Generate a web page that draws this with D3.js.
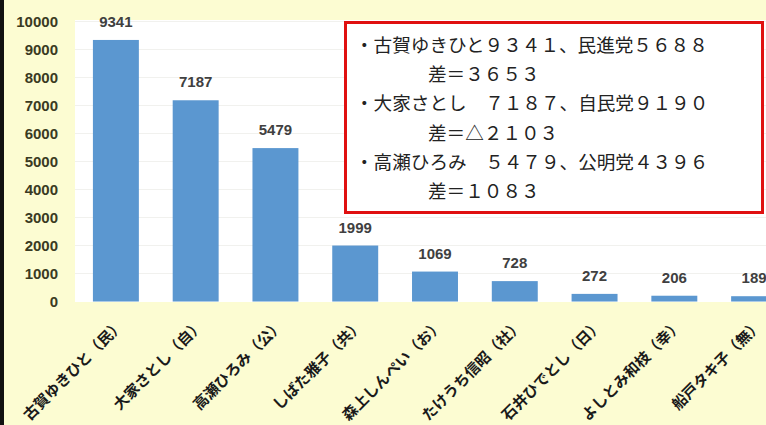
<!DOCTYPE html>
<html><head><meta charset="utf-8">
<script src="https://cdn.jsdelivr.net/npm/d3@7"></script>
<style>html,body{margin:0;padding:0;background:#fcfcd2;}svg{display:block;}</style>
</head><body>
<svg id="c" width="766" height="425"></svg>
<script>
const categories = ["古賀ゆきひと（民）","大家さとし（自）","高瀬ひろみ（公）","しばた雅子（共）","森上しんぺい（お）","たけうち信昭（社）","石井ひでとし（日）","よしとみ和枝（幸）","船戸タキ子（無）"];
const votes = [9341,7187,5479,1999,1069,728,272,206,189];
const yTicks = [0,1000,2000,3000,4000,5000,6000,7000,8000,9000,10000];
const noteLines = [
  "・古賀ゆきひと９３４１、民進党５６８８",
  "差＝３６５３",
  "・大家さとし　７１８７、自民党９１９０",
  "差＝△２１０３",
  "・高瀬ひろみ　５４７９、公明党４３９６",
  "差＝１０８３"
];
const noteIndent = [0,1,0,1,0,1];

const svg = d3.select("#c");
const W = 766, H = 425;
svg.append("rect").attr("width",W).attr("height",H).attr("fill","#fcfcd2");
svg.append("rect").attr("x",0).attr("y",0).attr("width",4).attr("height",H).attr("fill","#111");
// white plot area
svg.append("rect").attr("x",75).attr("y",20).attr("width",W-75).attr("height",282).attr("fill","#ffffff");

const y = d3.scaleLinear().domain([0,10000]).range([301.5,21.5]);
const x = d3.scaleBand().domain(categories).range([76,794]).paddingInner(0.424).paddingOuter(0.212);

// gridlines
svg.append("g").selectAll("line").data(yTicks.slice(1)).join("line")
  .attr("x1",75).attr("x2",W).attr("y1",d=>y(d)).attr("y2",d=>y(d))
  .attr("stroke","#f1f1ee").attr("stroke-width",1);

// y axis
const yAxis = d3.axisLeft(y).tickValues(yTicks).tickSize(0).tickPadding(0).tickFormat(d3.format("d"));
const ga = svg.append("g").attr("transform","translate(58,0)").call(yAxis);
ga.select(".domain").remove();
ga.selectAll("text").attr("font-family","'Liberation Sans', Arial, sans-serif").attr("font-size",15)
  .attr("font-weight","bold").attr("fill","#3a3a22");

// bars
svg.append("g").selectAll("rect").data(votes).join("rect")
  .attr("x",(d,i)=>x(categories[i])).attr("width",x.bandwidth())
  .attr("y",d=>y(d)).attr("height",d=>y(0)-y(d)).attr("fill","#5b97d0");

// value labels
svg.append("g").selectAll("text").data(votes).join("text")
  .attr("x",(d,i)=>x(categories[i])+x.bandwidth()/2).attr("y",d=>y(d)-13)
  .attr("text-anchor","middle").attr("font-family","'Liberation Sans', Arial, sans-serif")
  .attr("font-size",15).attr("font-weight","bold").attr("fill","#404040").text(d=>d);

// x labels
svg.append("g").selectAll("text").data(categories).join("text")
  .attr("transform",d=>`translate(${x(d)+x.bandwidth()/2+9},326) rotate(-45)`)
  .attr("text-anchor","end").attr("font-family","'Noto Sans CJK JP', sans-serif")
  .attr("font-size",15).attr("font-weight","bold").attr("fill","#1a1a1a").text(d=>d);

// note box
svg.append("rect").attr("x",345.5).attr("y",22.5).attr("width",417).attr("height",190)
  .attr("fill","#ffffff").attr("stroke","#e01010").attr("stroke-width",3);
svg.append("g").selectAll("text").data(noteLines).join("text")
  .attr("x",(d,i)=>noteIndent[i]?428:355).attr("y",(d,i)=>52+i*29.2)
  .attr("font-family","'Noto Sans CJK JP', sans-serif").attr("font-size",18.6)
  .attr("fill","#222").text(d=>d);
</script>
</body></html>
